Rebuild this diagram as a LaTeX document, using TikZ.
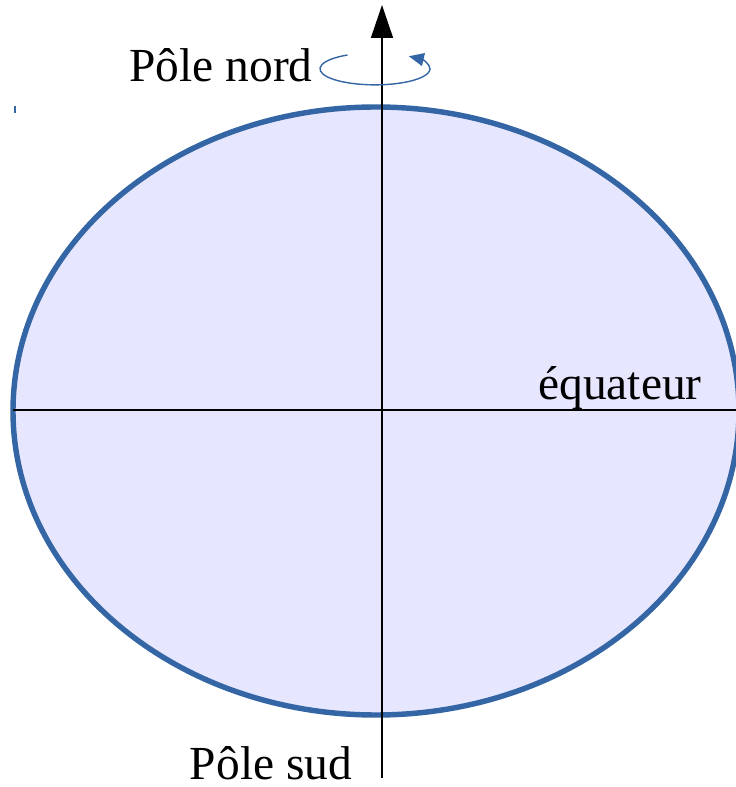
\documentclass[tikz,border=0pt]{standalone}
\usepackage{fontspec}
\setmainfont{Liberation Serif}
\usetikzlibrary{arrows.meta, positioning, shapes.geometric}
\definecolor{earthblue}{HTML}{3465A4}
\definecolor{earthfill}{HTML}{E6E6FF}

\begin{document}
\begin{tikzpicture}[
  x=0.02cm, y=0.02cm,
  axe/.style={line width=0.85pt, black},
  lbl/.style={font=\fontsize{27}{32}\selectfont, inner sep=0pt},
  rot/.style={earthblue, line width=0.8pt, -{Triangle[length=3mm, width=2.6mm]}}
]
\useasboundingbox (0,0) rectangle (736,787);

% === Globe (ellipse) ===
\draw[earthblue, fill=earthfill, line width=3.1pt]
  (376,376) ellipse [x radius=363, y radius=304];

% === Axis end points ===
\coordinate (nordtip) at (382,782);
\coordinate (sudend)  at (382,9);
\coordinate (ouest)   at (13,377);
\coordinate (est)     at (736,377);

% === Axes ===
\draw[axe, -{Triangle[length=6.6mm, width=4.4mm]}] (sudend) -- (nordtip);
\draw[axe] (ouest) -- (est);

% === Rotation about the polar axis ===
\draw[rot] (375,719) ++(120:55 and 15) arc[start angle=120, end angle=412,
  x radius=55, y radius=16];

% === small stray mark ===
\draw[earthblue, line width=0.6pt] (15,681) -- (15,674);

% === Labels ===
\node[lbl, anchor=base east] (nord) at (313,705) {Pôle nord};
\node[lbl, anchor=base] (equateur) at (620,387) {équateur};
\node[lbl, anchor=base] (sud) at (271,8) {Pôle sud};

\end{tikzpicture}
\end{document}
